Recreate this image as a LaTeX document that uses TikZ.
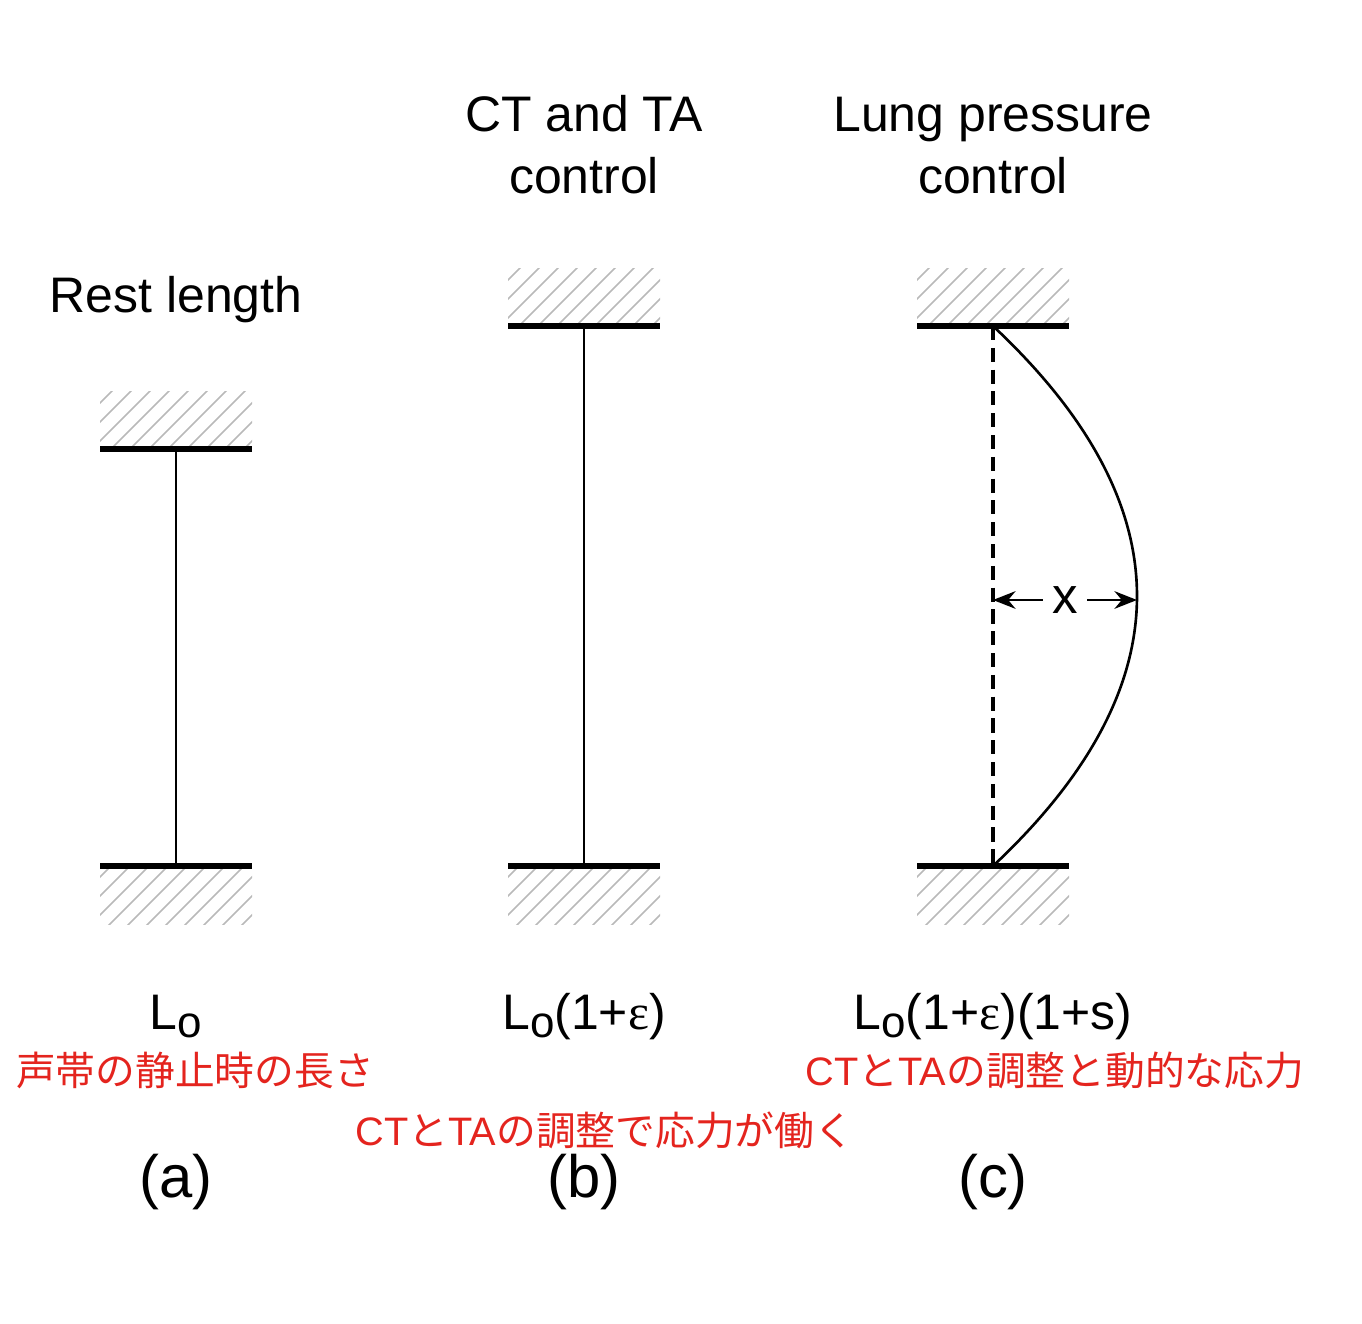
\documentclass[tikz,border=0pt]{standalone}
\usepackage{fontspec}
\setmainfont{Liberation Sans}
\newfontfamily\cjk{Noto Sans CJK JP}
\newfontfamily\greek{Liberation Serif}
\usepackage{tikz}
\usetikzlibrary{arrows.meta, calc}
\definecolor{notered}{RGB}{228,36,30}

\newcommand{\Lsub}{L\raisebox{-2.2pt}{\fontsize{12.5}{12.5}\selectfont o}}
\newcommand{\eps}{{\greek ε}}
\newcommand{\lat}[1]{{\normalfont #1}}

\tikzset{
	bar/.style={line width=1.8pt},
	hatchline/.style={gray!55, line width=0.45pt},
	cord/.style={line width=0.75pt},
	dimarrow/.style={line width=0.8pt, -{Stealth[length=6.4pt, width=5pt]}},
	title/.style={font=\fontsize{14.2}{17.6}\selectfont, align=center, anchor=base},
	note/.style={font=\cjk\fontsize{11.3}{13}\selectfont, text=notered},
	tag/.style={font=\fontsize{17}{20}\selectfont, anchor=base}
}

\begin{document}
\begin{tikzpicture}[x=0.01cm, y=-0.01cm]
			\useasboundingbox (0,0) rectangle (1362,1324);
			
			\foreach \px/\py/\side/\nm in {176/449/-1/atop, 176/866/1/abot, 584/326/-1/btop, 584/866/1/bbot, 993/326/-1/ctop, 993/866/1/cbot}
			{
				\begin{scope}
					\clip (\px-76, \py) rectangle (\px+76, \py+\side*58);
					\foreach \k in {0,...,16}
					\draw [hatchline] (\px-230+\k*19, \py+70) -- ++(140,-140);
				\end{scope}
				\draw [bar] (\px-76, \py) -- (\px+76, \py);
				\coordinate (\nm) at (\px, \py);
			}
			
			\draw [cord] (atop) -- (abot);
			\draw [cord] (btop) -- (bbot);
			\draw [cord, line width=1pt, dash pattern=on 4pt off 2.2pt] (ctop) -- (cbot);
			\draw [cord] (ctop) .. controls (1185,506) and (1185,686) .. (cbot);
			
			\coordinate (xl) at (993, 600);
			\coordinate (xr) at (1137, 600);
			\node [font=\fontsize{14.5}{17}\selectfont, inner sep=2.5pt] (xlab) at (1065, 600) {x};
			\draw [dimarrow] (xlab) -- (xl);
			\draw [dimarrow] (xlab) -- (xr);
			
			\node [title] (resttitle) at (176, 313) {Rest length};
			\node [title] (cttitle) at (584, 193) {CT and TA\\control};
			\node [title] (lungtitle) at (993, 193) {Lung pressure\\control};
			
			\node [title] (alen) at (176, 1030) {\Lsub};
			\node [title] (blen) at (584, 1030) {\Lsub(1+\eps)};
			\node [title] (clen) at (993, 1030) {\Lsub(1+\eps)(1+s)};
			
			\node [note] (anote) at (195, 1070) {声帯の静止時の長さ};
			\node [note] (bnote) at (605, 1130) {\lat{CT}と\lat{TA}の調整で応力が働く};
			\node [note] (cnote) at (1055, 1070) {\lat{CT}と\lat{TA}の調整と動的な応力};
			
			\node [tag] (atag) at (176, 1198) {(a)};
			\node [tag] (btag) at (584, 1198) {(b)};
			\node [tag] (ctag) at (993, 1198) {(c)};
\end{tikzpicture}
\end{document}
